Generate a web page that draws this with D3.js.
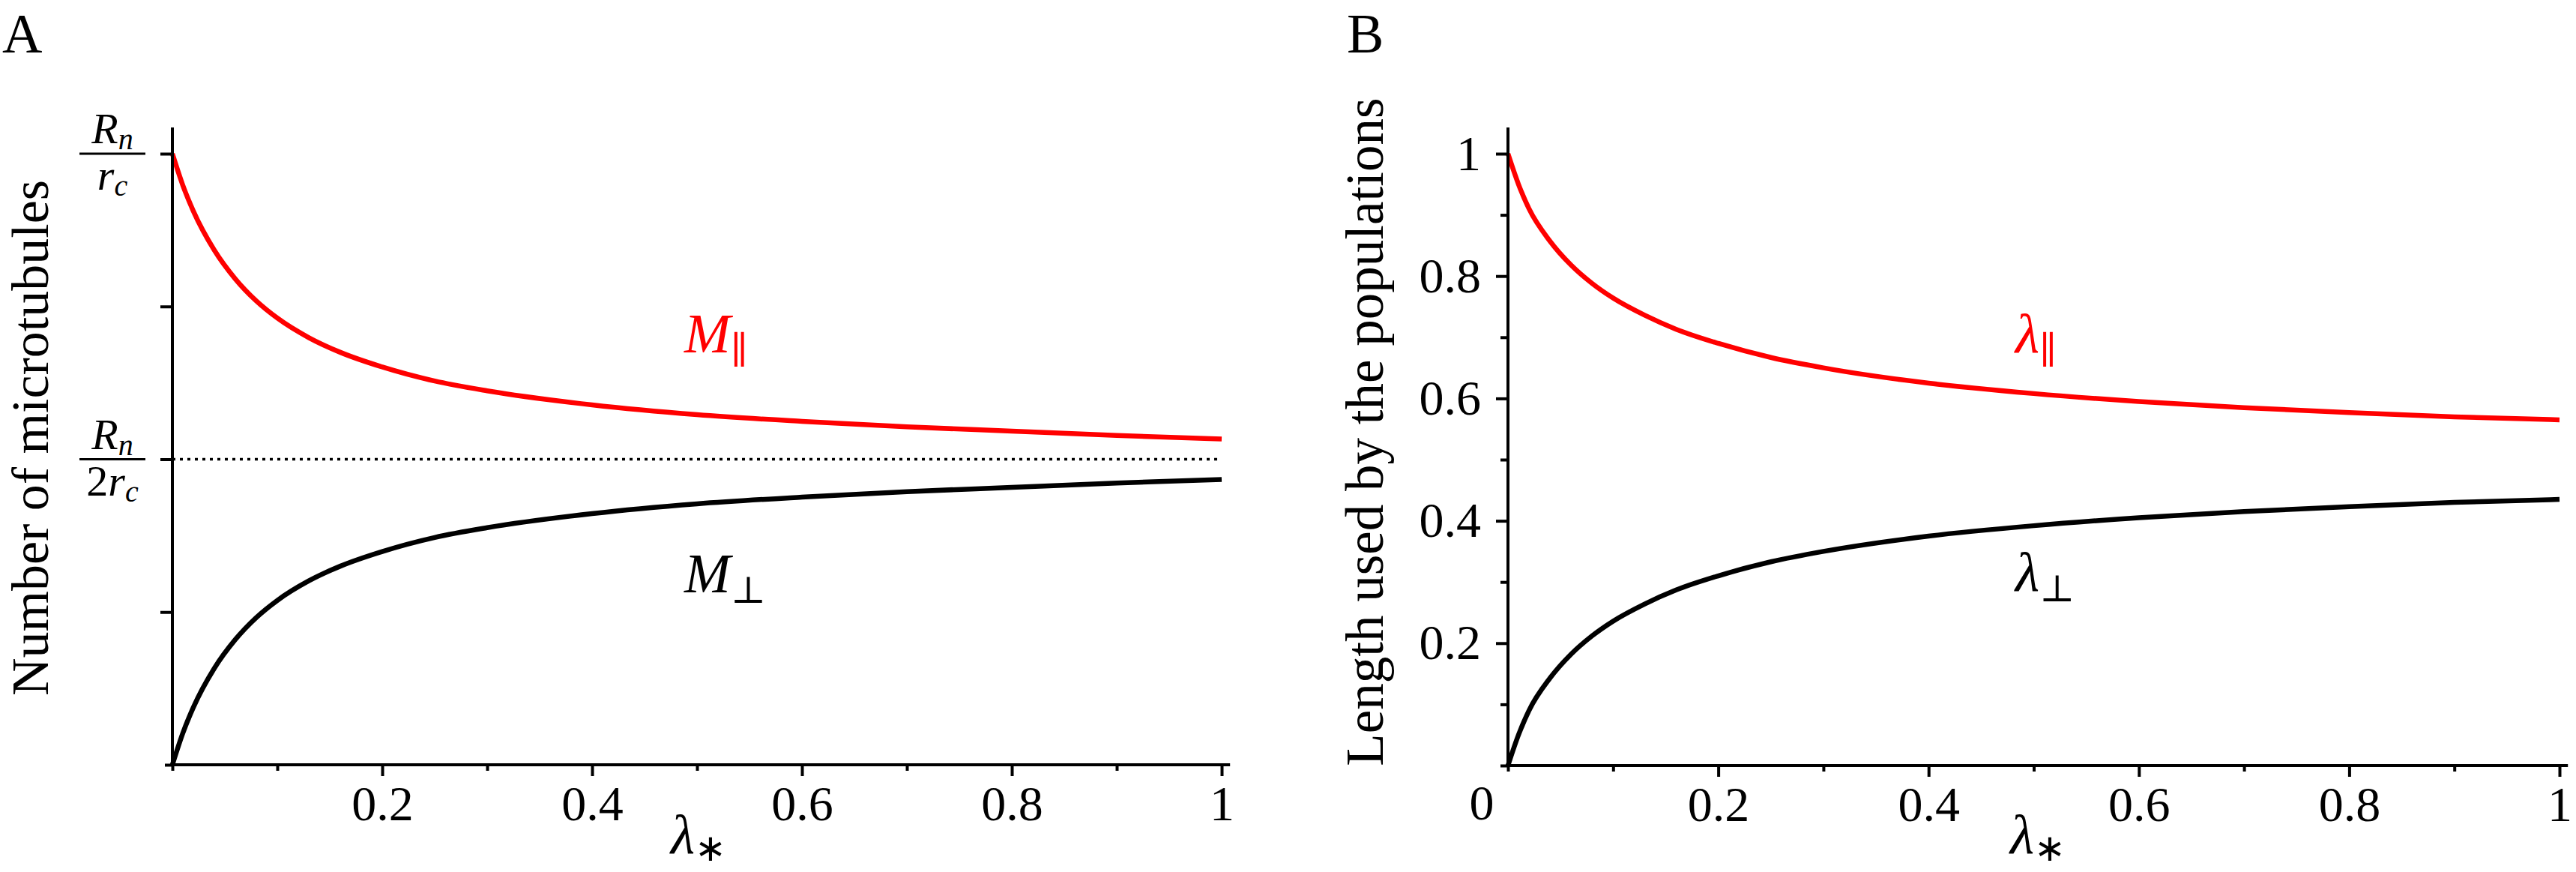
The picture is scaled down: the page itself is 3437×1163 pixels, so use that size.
<!DOCTYPE html>
<html>
<head>
<meta charset="utf-8">
<script src="https://cdn.jsdelivr.net/npm/d3@7"></script>
<style>
  body { margin: 0; background: #fff; }
  svg text { font-family: "Liberation Serif", "Times New Roman", Times, "Nimbus Roman", serif; fill: #000; }
</style>
</head>
<body>
<svg id="fig" width="3437" height="1163"></svg>
<script>
// 1: DATA
const lambdaStar = [0, 0.01, 0.02, 0.04, 0.06, 0.08, 0.1, 0.13, 0.16, 0.2, 0.25, 0.3, 0.4, 0.5, 0.6, 0.7, 0.8, 0.9, 1.0];

// panel A, normalised by Rn/rc
const mParallel = [1.0, 0.948, 0.906, 0.842, 0.795, 0.759, 0.731, 0.699, 0.675, 0.651, 0.628, 0.612, 0.589, 0.573, 0.562, 0.553, 0.546, 0.539, 0.533];
const mPerp     = [0.0, 0.052, 0.094, 0.158, 0.205, 0.241, 0.269, 0.301, 0.325, 0.349, 0.372, 0.388, 0.411, 0.427, 0.438, 0.447, 0.454, 0.461, 0.467];

// panel B
const lParallel = [1.0, 0.950, 0.910, 0.857, 0.818, 0.788, 0.764, 0.736, 0.713, 0.690, 0.667, 0.650, 0.625, 0.608, 0.595, 0.585, 0.577, 0.570, 0.565];
const lPerp     = [0.0, 0.050, 0.090, 0.143, 0.182, 0.212, 0.236, 0.264, 0.287, 0.310, 0.333, 0.350, 0.375, 0.392, 0.405, 0.415, 0.423, 0.430, 0.435];

const xMajor = [0.2, 0.4, 0.6, 0.8, 1];
const xMinor = [0, 0.1, 0.3, 0.5, 0.7, 0.9];
const yMajorA = [0.25, 0.5, 0.75, 1];
const yMinorA = [0];
const yMajorB = [0.2, 0.4, 0.6, 0.8, 1];
const yMinorB = [0, 0.1, 0.3, 0.5, 0.7, 0.9];

const svg = d3.select("#fig");
const serif = "'Liberation Serif', 'Times New Roman', Times, serif";

// 2: SCALES
const xA = d3.scaleLinear().domain([0, 1]).range([230, 1630]);
const yA = d3.scaleLinear().domain([0, 1]).range([1020, 205]);
const xB = d3.scaleLinear().domain([0, 1]).range([2012, 3415]);
const yB = d3.scaleLinear().domain([0, 1]).range([1021, 205]);

function drawAxes(g, x, y, yMaj, yMin, yLabels, xFirstLabel) {
    // axis lines
    g.append("line")
        .attr("x1", x(0) - 2).attr("x2", x(1.008))
        .attr("y1", y(0)).attr("y2", y(0))
        .attr("stroke", "#000").attr("stroke-width", 4);
    g.append("line")
        .attr("x1", x(0)).attr("x2", x(0))
        .attr("y1", y(0) + 2).attr("y2", y(1.043))
        .attr("stroke", "#000").attr("stroke-width", 4);

    const xAxisMaj = d3.axisBottom(x).tickValues(xMajor).tickSize(15).tickPadding(12)
        .tickFormat(d => d === 1 ? "1" : d3.format(".1f")(d));
    const xAxisMin = d3.axisBottom(x).tickValues(xMinor).tickSize(8).tickFormat("");
    const yAxisMaj = d3.axisLeft(y).tickValues(yMaj).tickSize(16).tickPadding(20)
        .tickFormat(d => yLabels ? yLabels(d) : "");
    const yAxisMin = d3.axisLeft(y).tickValues(yMin).tickSize(10).tickFormat("");

    [[xAxisMaj, `translate(0,${y(0)})`], [xAxisMin, `translate(0,${y(0)})`],
     [yAxisMaj, `translate(${x(0)},0)`], [yAxisMin, `translate(${x(0)},0)`]].forEach(([ax, tr]) => {
        const a = g.append("g").attr("transform", tr).call(ax).attr("font-family", serif);
        a.select(".domain").remove();
        a.selectAll(".tick line").attr("stroke", "#000").attr("stroke-width", 4);
        a.selectAll(".tick text").attr("font-size", 66).attr("fill", "#000");
    });

    if (xFirstLabel) {
        g.append("text").attr("x", x(0) - 35).attr("y", 1093)
            .attr("text-anchor", "middle").attr("font-size", 66).text(xFirstLabel);
    }
}

function fraction(g, cx, barY, numParts, denParts) {
    g.append("line").attr("x1", cx - 44).attr("x2", cx + 44)
        .attr("y1", barY).attr("y2", barY)
        .attr("stroke", "#000").attr("stroke-width", 3);
    const num = g.append("text").attr("x", cx).attr("y", barY - 14)
        .attr("text-anchor", "middle").attr("font-size", 58);
    numParts(num);
    const den = g.append("text").attr("x", cx).attr("y", barY + 48)
        .attr("text-anchor", "middle").attr("font-size", 58);
    denParts(den);
}

function curve(g, x, y, vals, color) {
    const line = d3.line()
        .x((d, i) => x(lambdaStar[i]))
        .y(d => y(d))
        .curve(d3.curveMonotoneX);
    g.append("path").datum(vals)
        .attr("fill", "none").attr("stroke", color)
        .attr("stroke-width", 6.5).attr("stroke-linecap", "butt")
        .attr("d", line);
}

function subLabel(g, x, yBase, main, sub, color) {
    const t = g.append("text").attr("x", x).attr("y", yBase)
        .attr("font-size", 74).style("fill", color);
    t.append("tspan").attr("font-style", "italic").text(main);
    t.append("tspan").attr("font-size", 50).attr("dy", 14)
        .attr("font-family", "'DejaVu Serif', serif").text(sub);
}

// ============ PANEL A ============
const gA = svg.append("g");

gA.append("line")
    .attr("x1", xA(0)).attr("x2", xA(1))
    .attr("y1", yA(0.5)).attr("y2", yA(0.5))
    .attr("stroke", "#000").attr("stroke-width", 3.5)
    .attr("stroke-dasharray", "4,6");

curve(gA, xA, yA, mParallel, "#ff0000");
curve(gA, xA, yA, mPerp, "#000");
drawAxes(gA, xA, yA, yMajorA, yMinorA, null, null);

fraction(gA, 150, yA(1), t => {
    t.append("tspan").attr("font-style", "italic").text("R");
    t.append("tspan").attr("font-style", "italic").attr("font-size", 40).attr("dy", 8).text("n");
}, t => {
    t.append("tspan").attr("font-style", "italic").text("r");
    t.append("tspan").attr("font-style", "italic").attr("font-size", 40).attr("dy", 8).text("c");
});
fraction(gA, 150, yA(0.5), t => {
    t.append("tspan").attr("font-style", "italic").text("R");
    t.append("tspan").attr("font-style", "italic").attr("font-size", 40).attr("dy", 8).text("n");
}, t => {
    t.append("tspan").text("2");
    t.append("tspan").attr("font-style", "italic").text("r");
    t.append("tspan").attr("font-style", "italic").attr("font-size", 40).attr("dy", 8).text("c");
});

subLabel(gA, 913, 470, "M", "∥", "#ff0000");
subLabel(gA, 913, 790, "M", "⊥", "#000");

gA.append("text").attr("transform", "rotate(-90)")
    .attr("x", -584).attr("y", 64).attr("text-anchor", "middle")
    .attr("font-size", 70).text("Number of microtubules");

const xtA = gA.append("text").attr("x", 895).attr("y", 1138).attr("font-size", 74);
xtA.append("tspan").attr("font-style", "italic").text("λ");
xtA.append("tspan").attr("font-size", 50).attr("dy", 10).text("∗");

gA.append("text").attr("x", 3).attr("y", 70).attr("font-size", 74).text("A");

// ============ PANEL B ============
const gB = svg.append("g");

curve(gB, xB, yB, lParallel, "#ff0000");
curve(gB, xB, yB, lPerp, "#000");
drawAxes(gB, xB, yB, yMajorB, yMinorB, d => d === 1 ? "1" : d3.format(".1f")(d), "0");

subLabel(gB, 2689, 470, "λ", "∥", "#ff0000");
subLabel(gB, 2689, 788, "λ", "⊥", "#000");

gB.append("text").attr("transform", "rotate(-90)")
    .attr("x", -576).attr("y", 1845).attr("text-anchor", "middle")
    .attr("font-size", 71).text("Length used by the populations");

const xtB = gB.append("text").attr("x", 2682).attr("y", 1138).attr("font-size", 74);
xtB.append("tspan").attr("font-style", "italic").text("λ");
xtB.append("tspan").attr("font-size", 50).attr("dy", 10).text("∗");

gB.append("text").attr("x", 1797).attr("y", 70).attr("font-size", 74).text("B");
</script>
</body>
</html>
